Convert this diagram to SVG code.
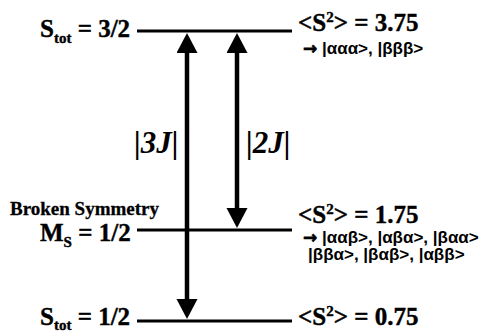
<svg xmlns="http://www.w3.org/2000/svg" width="503" height="332" viewBox="0 0 503 332">
<style>
.lvl{stroke:#000;stroke-width:3;fill:none}
.arr{stroke:#000;stroke-width:4.5;fill:none}
.big{font-family:"Liberation Serif",serif;font-weight:bold;font-size:25px;fill:#000;stroke:#000;stroke-width:0.4}
.sub{font-family:"Liberation Serif",serif;font-weight:bold;font-size:15px}
.s2{font-family:"Liberation Serif",serif;font-weight:bold;font-size:25px;fill:#000;stroke:#000;stroke-width:0.4}
.bs{font-family:"Liberation Serif",serif;font-weight:bold;font-size:19px;fill:#000;stroke:#000;stroke-width:0.3}
.st{font-family:"Liberation Sans",Arial,sans-serif;font-weight:bold;font-size:17px;fill:#000}
.ar{font-family:"DejaVu Sans",sans-serif;font-weight:bold;font-size:17px;stroke:#000;stroke-width:0.6}
.j{font-family:"Liberation Serif",serif;font-weight:bold;font-style:italic;font-size:31px;fill:#000}
</style>
<defs>
<marker id="head" markerUnits="userSpaceOnUse" markerWidth="21" markerHeight="22" refX="1" refY="10.5" orient="auto-start-reverse">
<path d="M0,0 L20,10.5 L0,21 Z" fill="#000"/>
</marker>
</defs>
<g id="level-top">
<line class="lvl" x1="137" y1="31" x2="292" y2="31"/>
<text class="big" x="40" y="37">S<tspan class="sub" dy="6">tot</tspan><tspan dy="-6"> = 3/2</tspan></text>
<text class="s2" x="298" y="31">&lt;S<tspan font-size="15" dy="-9">2</tspan><tspan dy="9">&gt; = 3.75</tspan></text>
<text class="st" x="303" y="54"><tspan class="ar">→</tspan> |ααα&gt;, |βββ&gt;</text>
</g>
<g id="level-mid">
<line class="lvl" x1="137" y1="230" x2="292" y2="230"/>
<text class="bs" x="10" y="215">Broken Symmetry</text>
<text class="big" x="40" y="241">M<tspan class="sub" dy="6">S</tspan><tspan dy="-6"> = 1/2</tspan></text>
<text class="s2" x="298" y="223">&lt;S<tspan font-size="15" dy="-9">2</tspan><tspan dy="9">&gt; = 1.75</tspan></text>
<text class="st" x="303" y="243"><tspan class="ar">→</tspan> |ααβ&gt;, |αβα&gt;, |βαα&gt;</text>
<text class="st" x="308" y="260">|ββα&gt;, |βαβ&gt;, |αββ&gt;</text>
</g>
<g id="level-bot">
<line class="lvl" x1="137" y1="321" x2="292" y2="321"/>
<text class="big" x="40" y="325">S<tspan class="sub" dy="5">tot</tspan><tspan dy="-5"> = 1/2</tspan></text>
<text class="s2" x="298" y="325">&lt;S<tspan font-size="15" dy="-9">2</tspan><tspan dy="9">&gt; = 0.75</tspan></text>
</g>
<g id="connectors">
<line class="arr" x1="187" y1="52" x2="187" y2="300" marker-start="url(#head)" marker-end="url(#head)"/>
<line class="arr" x1="237" y1="52" x2="237" y2="209" marker-start="url(#head)" marker-end="url(#head)"/>
<text class="j" x="134" y="153">|3J|</text>
<text class="j" x="246" y="153">|2J|</text>
</g>
</svg>
